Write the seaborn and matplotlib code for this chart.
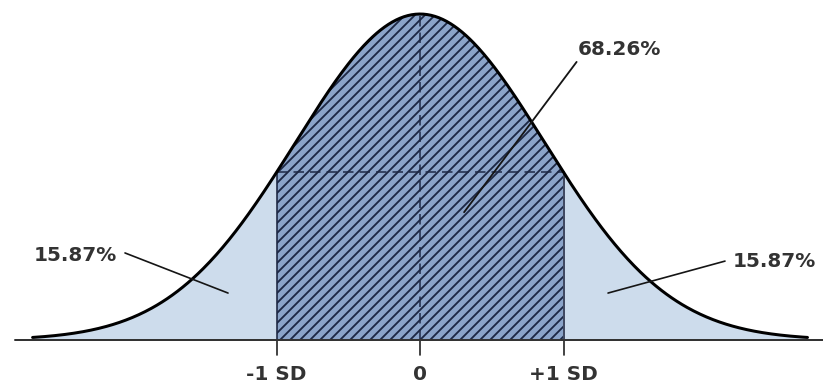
import numpy as np
import pandas as pd
import matplotlib
matplotlib.use("Agg")
import matplotlib.pyplot as plt
import seaborn as sns

# ---- data ----
sd_marks = [-1, 0, 1]
tick_labels = ["-1 SD", "0", "+1 SD"]
area_labels = ["15.87%", "68.26%", "15.87%"]
curve_range = [-2.7, 2.7]
curve_scale = 0.867          # width of the drawn bell relative to the SD marks

x = np.linspace(curve_range[0], curve_range[1], 600)
y = np.exp(-0.5 * (x / curve_scale) ** 2)
df = pd.DataFrame({"x": x, "y": y})

def bell(v):
    return float(np.exp(-0.5 * (v / curve_scale) ** 2))

# ---- style ----
sns.set_theme(style="white")
plt.rcParams["font.family"] = ["DejaVu Sans"]
plt.rcParams["hatch.linewidth"] = 1.1
plt.rcParams["hatch.color"] = "#1c2744"

navy = "#1c2744"
light = "#cddcec"
mid = "#8ba4c9"
txt = "#333333"
lead = "#151515"
fs = 12

fig = plt.figure(figsize=(823 / 120, 384 / 120), dpi=120)
ax = fig.add_axes([0, 0, 1, 1])
ax.set_xlim(-2.927, 2.808)
ax.set_ylim(-0.135, 1.043)
ax.axis("off")

# fills
left = df[df.x <= sd_marks[0]]
right = df[df.x >= sd_marks[2]]
center = df[(df.x >= sd_marks[0]) & (df.x <= sd_marks[2])]
ax.fill_between(left.x, 0, left.y, color=light, linewidth=0)
ax.fill_between(right.x, 0, right.y, color=light, linewidth=0)
ax.fill_between(center.x, 0, center.y, facecolor=mid, edgecolor=navy,
                hatch="////", linewidth=0)

# dashed guides
h1 = bell(sd_marks[2])
ax.plot([sd_marks[0], sd_marks[2]], [h1, h1], color=navy, lw=0.9,
        ls=(0, (7, 4)))
ax.plot([sd_marks[1], sd_marks[1]], [0, bell(0)], color=navy, lw=0.9,
        ls=(0, (7, 4)))

# SD verticals and ticks
for m in (sd_marks[0], sd_marks[2]):
    ax.plot([m, m], [0, bell(m)], color=navy, lw=1.0)
for m in sd_marks:
    ax.plot([m, m], [-0.045, 0], color="#222222", lw=1.0)

# baseline
ax.plot([-2.82, 2.81], [0, 0], color="#333333", lw=1.2)

# curve
sns.lineplot(data=df, x="x", y="y", ax=ax, color="black", lw=1.8,
             legend=False)

# tick labels
for m, lab in zip(sd_marks, tick_labels):
    ax.text(m, -0.105, lab, ha="center", va="center", fontsize=fs,
            fontweight="semibold", color=txt)

# area labels with leader lines
ax.text(-2.69, 0.258, area_labels[0], ha="left", va="center",
        fontsize=fs, fontweight="semibold", color=txt)
ax.plot([-2.056, -1.338], [0.267, 0.144], color=lead, lw=1.0)

ax.text(2.76, 0.240, area_labels[2], ha="right", va="center",
        fontsize=fs, fontweight="semibold", color=txt)
ax.plot([2.125, 1.310], [0.242, 0.144], color=lead, lw=1.0)

ax.text(1.10, 0.890, area_labels[1], ha="left", va="center",
        fontsize=fs, fontweight="semibold", color=txt)
ax.plot([1.091, 0.307], [0.853, 0.392], color=lead, lw=1.1)

fig.savefig("out.png", dpi=120)
